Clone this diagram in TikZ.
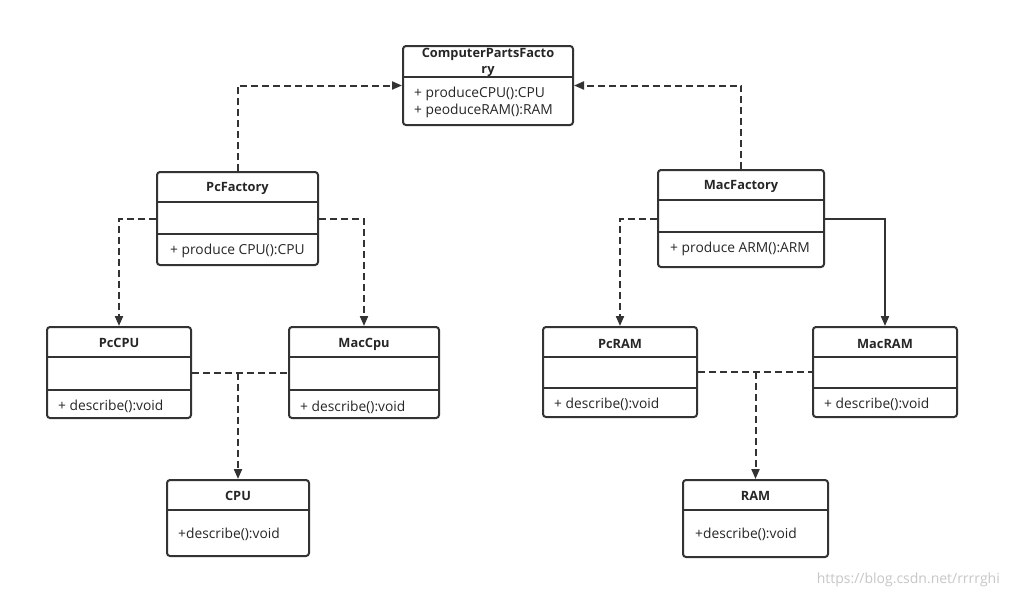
\documentclass[tikz,border=0pt]{standalone}
\usepackage{fontspec}
\setmainfont{Open Sans}
\usetikzlibrary{arrows.meta,calc}
\begin{document}
\begin{tikzpicture}[x=1pt,y=-1pt,
  box/.style={draw=black!80,line width=2pt,rounded corners=3pt,fill=white,inner sep=0pt},
  sep/.style={draw=black!80,line width=2pt},
  title/.style={font=\fontsize{12.8}{16}\selectfont\bfseries,text=black!85,align=center,inner sep=0pt},
  meth/.style={font=\fontsize{13.8}{17}\selectfont,text=black!85,anchor=west,align=left,inner sep=0pt},
  link/.style={draw=black!80,line width=2pt,dash pattern=on 7pt off 4pt,-{Triangle[length=10pt,width=8pt]}},
  plain/.style={draw=black!80,line width=2pt,dash pattern=on 7pt off 4pt},
  solidlink/.style={draw=black!80,line width=2pt,-{Triangle[length=10pt,width=8pt]}}]
\useasboundingbox (0,0) rectangle (1012,598);
\fill[white] (0,0) rectangle (1012,598);

% ComputerPartsFactory
\node[box,minimum width=170pt,minimum height=79pt] (cpf) at (488,85.5) {};
\draw[sep] (403,77) -- (573,77);
\node[title] (cpft) at (488,62) {ComputerPartsFacto\\ry};
\node[meth] (cpfm) at (414,102) {+ produceCPU():CPU\\+ peoduceRAM():RAM};

% PcFactory
\node[box,minimum width=161pt,minimum height=93pt] (pcf) at (237.5,218.5) {};
\draw[sep] (157,202) -- (318,202);
\draw[sep] (157,234) -- (318,234);
\node[title] (pcft) at (237.5,188) {PcFactory};
\node[meth] (pcfm) at (170,250.5) {+ produce CPU():CPU};

% MacFactory
\node[box,minimum width=166pt,minimum height=97pt] (mcf) at (741,218.5) {};
\draw[sep] (658,200) -- (824,200);
\draw[sep] (658,232) -- (824,232);
\node[title] (mcft) at (741,186) {MacFactory};
\node[meth] (mcfm) at (670,248.5) {+ produce ARM():ARM};

% PcCPU
\node[box,minimum width=144pt,minimum height=91pt] (pccpu) at (119,372.5) {};
\draw[sep] (47,357) -- (191,357);
\draw[sep] (47,390) -- (191,390);
\node[title] (pccput) at (119,343) {PcCPU};
\node[meth] (pccpum) at (58,406.5) {+ describe():void};

% MacCpu
\node[box,minimum width=150pt,minimum height=91pt] (maccpu) at (364,372.5) {};
\draw[sep] (289,357) -- (439,357);
\draw[sep] (289,390) -- (439,390);
\node[title] (maccput) at (364,344) {MacCpu};
\node[meth] (maccpum) at (300,407.5) {+ describe():void};

% PcRAM
\node[box,minimum width=154pt,minimum height=90pt] (pcram) at (620,372) {};
\draw[sep] (543,357) -- (697,357);
\draw[sep] (543,388) -- (697,388);
\node[title] (pcramt) at (620,344) {PcRAM};
\node[meth] (pcramm) at (554,404.5) {+ describe():void};

% MacRAM
\node[box,minimum width=144pt,minimum height=90pt] (macram) at (885,372) {};
\draw[sep] (813,357) -- (957,357);
\draw[sep] (813,388) -- (957,388);
\node[title] (macramt) at (885,344) {MacRAM};
\node[meth] (macramm) at (824,404.5) {+ describe():void};

% CPU
\node[box,minimum width=142pt,minimum height=76pt] (cpu) at (238,518) {};
\draw[sep] (167,510) -- (309,510);
\node[title] (cput) at (238,496) {CPU};
\node[meth] (cpum) at (178,534.5) {+describe():void};

% RAM
\node[box,minimum width=145pt,minimum height=77pt] (ram) at (755.5,518.5) {};
\draw[sep] (683,510) -- (828,510);
\node[title] (ramt) at (755.5,496) {RAM};
\node[meth] (ramm) at (695,534.5) {+describe():void};

% connectors
\draw[link] (pcf.north) |- (cpf.west);
\draw[link] (mcf.north) |- (cpf.east);
\draw[link] (pcf.west) -| (pccpu.north);
\draw[link] (pcf.east) -| (maccpu.north);
\draw[link] (mcf.west) -| (pcram.north);
\draw[solidlink] (mcf.east) -| (macram.north);

\coordinate (jc) at (cpu.north |- pccpu.east);
\draw[plain] (pccpu.east) -- (maccpu.west);
\draw[link] (jc) -- (cpu.north);
\coordinate (jr) at (ram.north |- pcram.east);
\draw[plain] (pcram.east) -- (macram.west);
\draw[link] (jr) -- (ram.north);

% watermark
\node[font=\fontsize{14}{16}\selectfont,text=black!22,anchor=east,inner sep=0pt] (wm) at (1000,580) {https://blog.csdn.net/rrrrghi};
\end{tikzpicture}
\end{document}
